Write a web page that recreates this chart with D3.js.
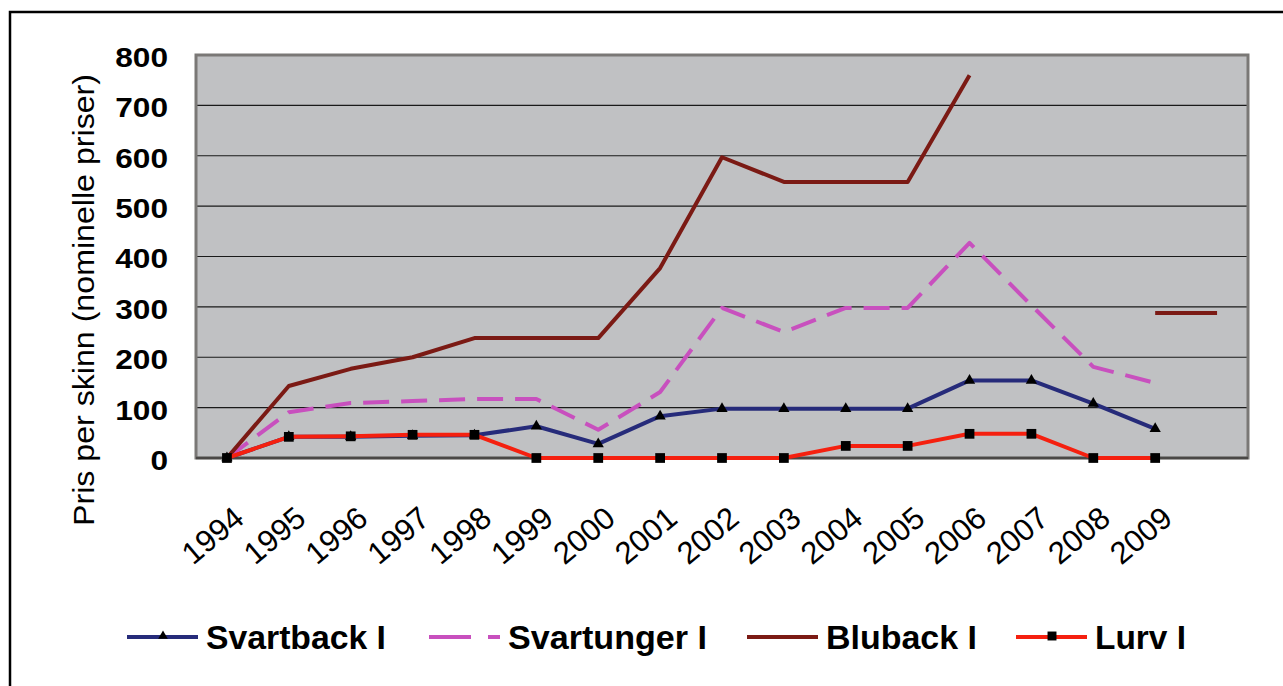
<!DOCTYPE html>
<meta charset="utf-8">
<script src="https://d3js.org/d3.v7.min.js"></script>
<style>
  body { margin: 0; background: #fff; }
  text { font-family: Arial, "Liberation Sans", sans-serif; fill: #000; }
</style>
<div id="chart"></div>
<script>

var years = [1994, 1995, 1996, 1997, 1998, 1999, 2000, 2001, 2002, 2003, 2004, 2005, 2006, 2007, 2008, 2009, 2010]
var yearLabels = ["1994", "1995", "1996", "1997", "1998", "1999", "2000", "2001", "2002", "2003", "2004", "2005", "2006", "2007", "2008", "2009", ""]
var yTicks = [0, 100, 200, 300, 400, 500, 600, 700, 800]

var svartback  = [0, 42, 42, 44, 45, 63, 28, 83, 98, 98, 98, 98, 154, 154, 108, 58, null]
var svartunger = [0, 91, 109, 113, 117, 117, 56, 131, 298, 250, 298, 298, 427, 303, 181, 149, null]
var bluback    = [0, 143, 177, 200, 238, 238, 238, 377, 597, 548, 548, 548, 760, null, null, 288, 288]
var lurv       = [0, 42, 43, 46, 46, 0, 0, 0, 0, 0, 24, 24, 48, 48, 0, 0, null]

var seriesNames = ["Svartback I", "Svartunger I", "Bluback I", "Lurv I"]
var seriesData = [svartback, svartunger, bluback, lurv]
var colors = ["#262b7a", "#c850be", "#7b1a14", "#f5200f"]
var dashes = [null, "26,12", null, null]
var markers = ["triangle", null, null, "square"]

var width = 1283, height = 686
var plot = {left: 196, right: 1248, top: 55, bottom: 458}

var svg = d3.select("#chart")
  .append("svg")
    .attr("width", width)
    .attr("height", height)

svg.append("rect").attr("width", width).attr("height", height).attr("fill", "#fff")

// outer frame (only top and left edges show)
svg.append("path")
  .attr("d", "M10," + height + "V12H" + width)
  .attr("fill", "none")
  .attr("stroke", "#000")
  .attr("stroke-width", 2.5)

var x = d3.scalePoint()
  .domain(years)
  .range([plot.left, plot.right])
  .padding(0.5)

var y = d3.scaleLinear()
  .domain([0, 800])
  .range([plot.bottom, plot.top])

svg.append("rect")
  .attr("x", plot.left)
  .attr("y", plot.top)
  .attr("width", plot.right - plot.left)
  .attr("height", plot.bottom - plot.top)
  .attr("fill", "#c0c1c3")

svg.selectAll("line.grid")
  .data(yTicks.filter(function(d){ return d > 0 && d < 800 }))
  .enter()
  .append("line")
    .attr("class", "grid")
    .attr("x1", plot.left)
    .attr("x2", plot.right)
    .attr("y1", function(d){ return y(d) })
    .attr("y2", function(d){ return y(d) })
    .attr("stroke", "#1a1a1a")
    .attr("stroke-width", 1.2)

svg.append("rect")
  .attr("x", plot.left)
  .attr("y", plot.top)
  .attr("width", plot.right - plot.left)
  .attr("height", plot.bottom - plot.top)
  .attr("fill", "none")
  .attr("stroke", "#7a7876")
  .attr("stroke-width", 3)

svg.append("line")
  .attr("x1", plot.left).attr("x2", plot.right)
  .attr("y1", y(0)).attr("y2", y(0))
  .attr("stroke", "#4a4846")
  .attr("stroke-width", 2.5)

// y axis labels
var yAxis = svg.append("g")
  .attr("transform", "translate(" + (plot.left - 28) + ",0)")
  .call(d3.axisLeft(y).tickValues(yTicks).tickSize(0).tickPadding(0))
yAxis.select(".domain").remove()
yAxis.selectAll("text")
  .attr("y", 2)
  .attr("dy", "0.35em")
  .style("font-family", "Arial, 'Liberation Sans', sans-serif")
  .style("font-size", "27px")
  .style("font-weight", "bold")
  .attr("fill", "#000")
  .attr("textLength", function(d){ return String(d).length * 17.6 })
  .attr("lengthAdjust", "spacingAndGlyphs")

svg.append("text")
  .attr("transform", "translate(84,300) rotate(-90)")
  .attr("text-anchor", "middle")
  .attr("dy", "0.35em")
  .style("font-size", "29px")
  .attr("textLength", 452)
  .attr("lengthAdjust", "spacingAndGlyphs")
  .text("Pris per skinn (nominelle priser)")

// x axis labels
svg.selectAll("text.xlab")
  .data(years)
  .enter()
  .append("text")
    .attr("class", "xlab")
    .attr("transform", function(d){ return "translate(" + (x(d) + 12) + ",513) rotate(-40)" })
    .attr("text-anchor", "end")
    .attr("dy", "0.35em")
    .style("font-size", "31px")
    .text(function(d, i){ return yearLabels[i] })

// lines
var line = d3.line()
  .defined(function(d){ return d.v !== null })
  .x(function(d){ return x(d.year) })
  .y(function(d){ return y(d.v) })

seriesData.forEach(function(vals, i) {
  var pts = years.map(function(yr, j){ return {year: yr, v: vals[j]} })
  svg.append("path")
    .datum(pts)
    .attr("d", line)
    .attr("fill", "none")
    .attr("stroke", colors[i])
    .attr("stroke-width", 4)
    .attr("stroke-linejoin", "round")
    .attr("stroke-dasharray", dashes[i])

  if (markers[i]) {
    var sym = d3.symbol()
      .type(markers[i] == "triangle" ? d3.symbolTriangle : d3.symbolSquare)
      .size(markers[i] == "triangle" ? 55 : 95)
    svg.selectAll("path.m" + i)
      .data(pts.filter(function(d){ return d.v !== null }))
      .enter()
      .append("path")
        .attr("class", "m" + i)
        .attr("d", sym)
        .attr("transform", function(d){ return "translate(" + x(d.year) + "," + y(d.v) + ")" })
        .attr("fill", "#000")
  }
})

// legend
var legendX = [127, 429, 747, 1016]
var legendText = [180, 199, 151, 91]
var legY = 637

seriesNames.forEach(function(name, i) {
  var g = svg.append("g").attr("transform", "translate(" + legendX[i] + "," + legY + ")")
  if (dashes[i]) {
    g.append("line").attr("x1", 0).attr("x2", 42).attr("stroke", colors[i]).attr("stroke-width", 4)
    g.append("line").attr("x1", 59).attr("x2", 71).attr("stroke", colors[i]).attr("stroke-width", 4)
  } else {
    g.append("line").attr("x1", 0).attr("x2", 71).attr("stroke", colors[i]).attr("stroke-width", 4)
  }
  if (markers[i]) {
    g.append("path")
      .attr("d", d3.symbol().type(markers[i] == "triangle" ? d3.symbolTriangle : d3.symbolSquare).size(markers[i] == "triangle" ? 40 : 80))
      .attr("transform", "translate(36,-1)")
      .attr("fill", "#000")
  }
  g.append("text")
    .attr("x", 79)
    .attr("dy", "0.35em")
    .style("font-size", "34px")
    .style("font-weight", "bold")
    .attr("textLength", legendText[i])
    .attr("lengthAdjust", "spacingAndGlyphs")
    .text(name)
})

</script>
